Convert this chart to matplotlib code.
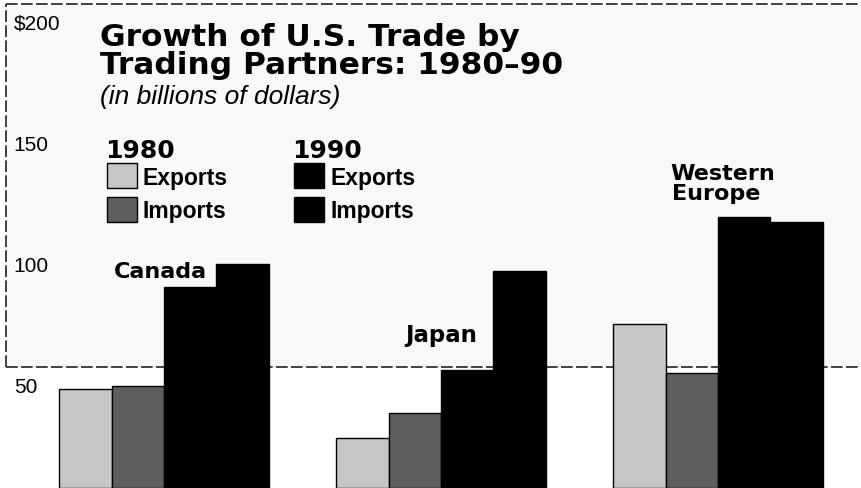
import matplotlib.pyplot as plt
from matplotlib.patches import Rectangle

regions = ['Canada', 'Japan', 'Western\nEurope']
exports_1980 = [40.9, 20.7, 67.8]
imports_1980 = [42.1, 31.0, 47.5]
exports_1990 = [83.1, 48.8, 112.0]
imports_1990 = [92.6, 89.7, 109.9]
tick_values = [200, 150, 100, 50]
tick_labels = ['$200', '150', '100', '50']

W, H = 861, 488
fig = plt.figure(figsize=(W / 100, H / 100), dpi=100)
ax = fig.add_axes([0, 0, 1, 1])
ax.set_xlim(-0.592, 2.516)
ax.set_ylim(0, 201.7)
ax.axis('off')


def px(x, y):
    # pixel position in the picture -> figure fraction
    return x / W, 1 - y / H


heavy = 'DejaVu Sans'
plain = 'Liberation Sans'
light_grey = '#c6c6c6'
dark_grey = '#5e5e5e'

# tinted box above the 50 line
left_edge = 6 / W
ax.axhspan(50, 200, xmin=left_edge, color='#f8f8f8', zorder=0, lw=0)
dash = (0, (7, 2))
ax.axhline(200, xmin=left_edge, color='#222222', lw=1.2, ls=dash, zorder=1)
ax.axhline(50, xmin=left_edge, color='#222222', lw=1.2, ls=dash, zorder=1)
ax.plot([ax.get_xlim()[0] + 0.022] * 2, [50, 200], color='#222222', lw=1.2, ls=dash, zorder=1)

# bars
w = 0.189
x = list(range(len(regions)))
ax.bar([i - 1.5 * w for i in x], exports_1980, w, color=light_grey, edgecolor='black', lw=1, zorder=3)
ax.bar([i - 0.5 * w for i in x], imports_1980, w, color=dark_grey, edgecolor='black', lw=1, zorder=3)
ax.bar([i + 0.5 * w for i in x], exports_1990, w, color='black', edgecolor='black', lw=1, zorder=3)
ax.bar([i + 1.5 * w for i in x], imports_1990, w, color='black', edgecolor='black', lw=1, zorder=3)

# y value labels, sitting just under each level
for v, lab in zip(tick_values, tick_labels):
    ax.text(0.016, v - 4.4, lab, transform=ax.get_yaxis_transform(), ha='left', va='top',
            fontsize=15, family=plain, zorder=5)

# region labels
ax.text(0 + 0.155, 86.8, regions[0], ha='right', va='baseline', fontsize=16,
        fontweight='bold', family=heavy, zorder=5)
ax.text(1 + 0.132, 60.3, regions[1], ha='right', va='baseline', fontsize=16.5,
        fontweight='bold', family=heavy, zorder=5)
we1, we2 = regions[2].split('\n')
ax.text(2 - 0.171, 127.3, we1, ha='left', va='baseline', fontsize=16,
        fontweight='bold', family=heavy, zorder=5)
ax.text(2 - 0.165, 119.0, we2, ha='left', va='baseline', fontsize=16,
        fontweight='bold', family=heavy, zorder=5)

# title
fig.text(*px(100, 46), 'Growth of U.S. Trade by', fontsize=22.5, fontweight='bold',
         family=heavy, va='baseline')
fig.text(*px(100, 74), 'Trading Partners: 1980\u201390', fontsize=22.5, fontweight='bold',
         family=heavy, va='baseline')
fig.text(*px(100, 104), '(in billions of dollars)', fontsize=19, style='italic',
         family=plain, va='baseline')

# legend
legend_cols = [(105, '1980', light_grey, dark_grey), (292, '1990', 'black', 'black')]
for lx, year, c_exp, c_imp in legend_cols:
    fig.text(*px(lx, 158), year, fontsize=18, fontweight='bold', family=heavy, va='baseline')
    for (top, bottom, base), col, name in [((163, 188, 185), c_exp, 'Exports'),
                                            ((197, 222, 218), c_imp, 'Imports')]:
        x0, y0 = px(lx + 2, bottom)
        fig.patches.append(Rectangle((x0, y0), 30 / W, (bottom - top) / H, transform=fig.transFigure,
                                     facecolor=col, edgecolor='black', lw=1, zorder=5))
        fig.text(*px(lx + 38, base), name, fontsize=16.5, fontweight='bold', family=plain,
                 va='baseline')

fig.savefig('out.png', dpi=100)
